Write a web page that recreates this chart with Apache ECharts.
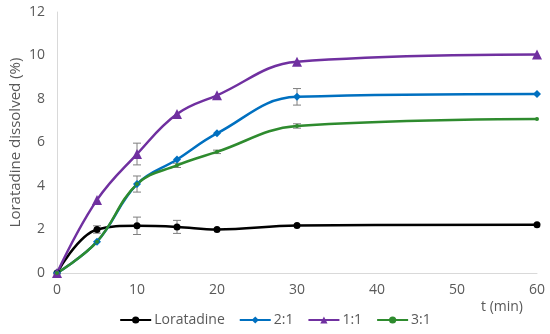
<!DOCTYPE html>
<html><head><meta charset="utf-8">
<script src="https://cdn.jsdelivr.net/npm/echarts@6/dist/echarts.min.js"></script>
<style>html,body{margin:0;padding:0;background:#fff}#c{width:550px;height:334px}</style>
</head><body><div id="c"></div>
<script>
var times = [0, 5, 10, 15, 20, 30, 60];
var seriesNames = ['Loratadine', '2:1', '1:1', '3:1'];
var lorValues = [0, 2.0, 2.17, 2.12, 2.0, 2.18, 2.22];
var r21Values = [0, 1.44, 4.09, 5.22, 6.42, 8.1, 8.23];
var r11Values = [0, 3.36, 5.47, 7.31, 8.17, 9.71, 10.05];
var r31Values = [0, 1.44, 4.09, 4.95, 5.57, 6.76, 7.08];
var lorErr = [0, 0.17, 0.4, 0.3, 0, 0, 0];
var r21Err = [0, 0, 0.37, 0, 0, 0.38, 0];
var r11Err = [0, 0, 0.5, 0, 0, 0, 0];
var r31Err = [0, 0, 0, 0.1, 0.08, 0.1, 0];
var xTicks = [0, 10, 20, 30, 40, 50, 60];
var yTicks = [0, 2, 4, 6, 8, 10, 12];

var colors = ['#000000', '#0070C0', '#7030A0', '#2E8B2E'];
var symbols = ['circle', 'diamond', 'triangle', 'circle'];
var symSizes = [7, 8, 10, 4];
var vals = [lorValues, r21Values, r11Values, r31Values];
var errs = [lorErr, r21Err, r11Err, r31Err];
var FONT = 'Open Sans';

var series = [];
var errData = [];
for (var s = 0; s < 4; s++) {
  for (var i = 0; i < times.length; i++) {
    if (errs[s][i] > 0) errData.push([times[i], vals[s][i] - errs[s][i], vals[s][i] + errs[s][i]]);
  }
}
series.push({
  type: 'custom', name: 'err', silent: true, z: 1,
  renderItem: function (params, api) {
    var x = api.value(0);
    var lo = api.coord([x, api.value(1)]);
    var hi = api.coord([x, api.value(2)]);
    var w = 4;
    var st = {stroke: '#7f7f7f', lineWidth: 1};
    return {type: 'group', children: [
      {type: 'line', shape: {x1: lo[0], y1: lo[1], x2: hi[0], y2: hi[1]}, style: st},
      {type: 'line', shape: {x1: lo[0]-w, y1: lo[1], x2: lo[0]+w, y2: lo[1]}, style: st},
      {type: 'line', shape: {x1: hi[0]-w, y1: hi[1], x2: hi[0]+w, y2: hi[1]}, style: st}
    ]};
  },
  data: errData
});
for (var s = 0; s < 4; s++) {
  series.push({
    type: 'line', name: seriesNames[s], smooth: 0.4, z: 3,
    data: times.map(function (t, i) { return [t, vals[s][i]]; }),
    symbol: symbols[s], symbolSize: symSizes[s], showSymbol: true,
    lineStyle: {color: colors[s], width: 2.5},
    itemStyle: {color: colors[s]}
  });
}

var chart = echarts.init(document.getElementById('c'));
chart.setOption({
  animation: false,
  grid: {left: 57, right: 13, top: 12, bottom: 61, containLabel: false, outerBoundsMode: 'none'},
  graphic: [{
    type: 'text', left: 481, top: 300,
    style: {text: 't (min)', fill: '#595959', fontSize: 14, fontFamily: FONT}
  }],
  legend: {
    data: seriesNames, bottom: 2, left: 'center', itemWidth: 31, itemHeight: 9, itemGap: 14,
    textStyle: {color: '#595959', fontSize: 14, fontFamily: FONT, padding: [0, 0, 0, -2]}
  },
  xAxis: {
    type: 'value', min: 0, max: 60, interval: 10,
    axisLine: {show: true, lineStyle: {color: '#d9d9d9', width: 1}},
    axisTick: {show: false}, splitLine: {show: false},
    axisLabel: {color: '#595959', fontSize: 14, fontFamily: FONT, margin: 10}
  },
  yAxis: {
    type: 'value', min: 0, max: 12, interval: 2,
    name: 'Loratadine dissolved (%)', nameLocation: 'middle', nameGap: 34, nameMoveOverlap: false,
    nameTextStyle: {color: '#595959', fontSize: 15, fontFamily: FONT},
    axisLine: {show: true, lineStyle: {color: '#d9d9d9', width: 1}},
    axisTick: {show: false}, splitLine: {show: false},
    axisLabel: {color: '#595959', fontSize: 14, fontFamily: FONT, margin: 12}
  },
  series: series
});
</script></body></html>
